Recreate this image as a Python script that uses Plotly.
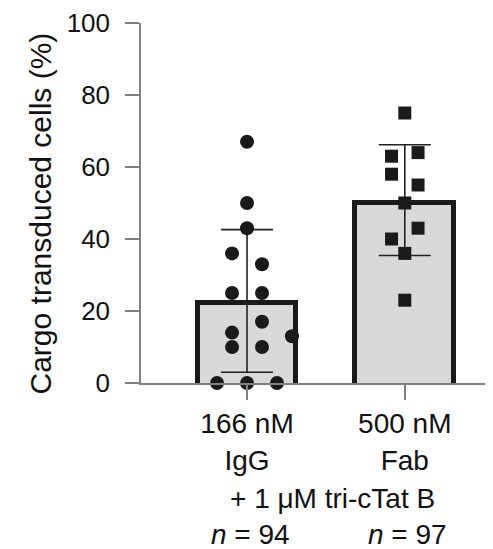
import plotly.graph_objects as go

# ---- data ----
groups = ["166 nM<br>IgG", "500 nM<br>Fab"]
group_pos = [0, 1]
bar_means = [22.8, 50.8]
bar_sd = [19.8, 15.4]

igg_values = [67, 50, 43, 36, 33, 25, 25, 17, 14, 13, 10, 10, 0, 0, 0]
igg_offsets = [0, 0, 0, -1, 1, -1, 1, 1, -1, 3, -1, 1, -2, 0, 2]
fab_values = [75, 64, 63, 58, 55, 50, 43, 40, 36, 23]
fab_offsets = [0, 1, -1, -1, 1, 0, 1, -1, 0, 0]

y_ticks = [0, 20, 40, 60, 80, 100]
n_labels = ["<i>n</i> = 94", "<i>n</i> = 97"]
common_label = "+ 1 μM tri-cTat B"
y_title = "Cargo transduced cells (%)"

FONT = "Liberation Sans, Arial, Helvetica, sans-serif"
BLACK = "#1a1a1a"
AXIS = "#808080"
step_igg = 0.095
step_fab = 0.084
BORDER = 5
inset = (BORDER / 2) / 3.6  # border drawn inside the bar, in data units

fig = go.Figure()
fig.add_trace(go.Bar(
    x=group_pos, y=[m - inset + 5 for m in bar_means], base=-5,
    width=0.627,
    marker=dict(color="#d9d9db", line=dict(color=BLACK, width=BORDER)),
    hoverinfo="skip", showlegend=False,
))
fig.add_trace(go.Scatter(
    x=group_pos, y=bar_means, mode="markers",
    marker=dict(size=1, color="rgba(0,0,0,0)"),
    error_y=dict(type="data", array=bar_sd, color="#222", thickness=1.6, width=26),
    showlegend=False, hoverinfo="skip",
))
fig.add_trace(go.Scatter(
    x=[group_pos[0] + o * step_igg for o in igg_offsets], y=igg_values,
    mode="markers", cliponaxis=False,
    marker=dict(symbol="circle", size=14, color=BLACK, line=dict(width=0)),
    showlegend=False,
))
fig.add_trace(go.Scatter(
    x=[group_pos[1] + o * step_fab for o in fab_offsets], y=fab_values,
    mode="markers", cliponaxis=False,
    marker=dict(symbol="square", size=13, color=BLACK, line=dict(width=0)),
    showlegend=False,
))

fig.update_layout(
    width=485, height=541,
    margin=dict(l=133, r=0, t=15, b=166),
    plot_bgcolor="white", paper_bgcolor="white",
    font=dict(family=FONT, color="#111"),
    bargap=0,
)
fig.update_xaxes(
    range=[-0.672, 1.559], tickmode="array", tickvals=group_pos, ticktext=groups,
    showline=True, linecolor=AXIS, linewidth=1.5,
    ticks="outside", ticklen=15, tickwidth=1.5, tickcolor=AXIS,
    tickfont=dict(size=28, color="#111"), showgrid=False, zeroline=False,
)
fig.update_yaxes(
    range=[0, 100], tickvals=y_ticks,
    showline=True, linecolor=AXIS, linewidth=1.5,
    ticks="outside", ticklen=14, tickwidth=1.5, tickcolor=AXIS,
    tickfont=dict(size=26, color="#111"), ticklabelstandoff=10,
    showgrid=False, zeroline=False,
)
fig.add_annotation(text=y_title, textangle=-90, xref="paper", yref="paper",
                   x=-0.285, y=0.47, xanchor="center", yanchor="middle",
                   showarrow=False, font=dict(size=30, color="#111"))
fig.add_annotation(text=common_label, xref="x", yref="paper", x=0.54, y=-0.322,
                   yanchor="middle", showarrow=False, font=dict(size=28, color="#111"))
for p, t in zip(group_pos, n_labels):
    fig.add_annotation(text=t, xref="x", yref="paper", x=p + 0.02, y=-0.421,
                       yanchor="middle", showarrow=False, font=dict(size=28, color="#111"))

fig.write_html("out.html")
